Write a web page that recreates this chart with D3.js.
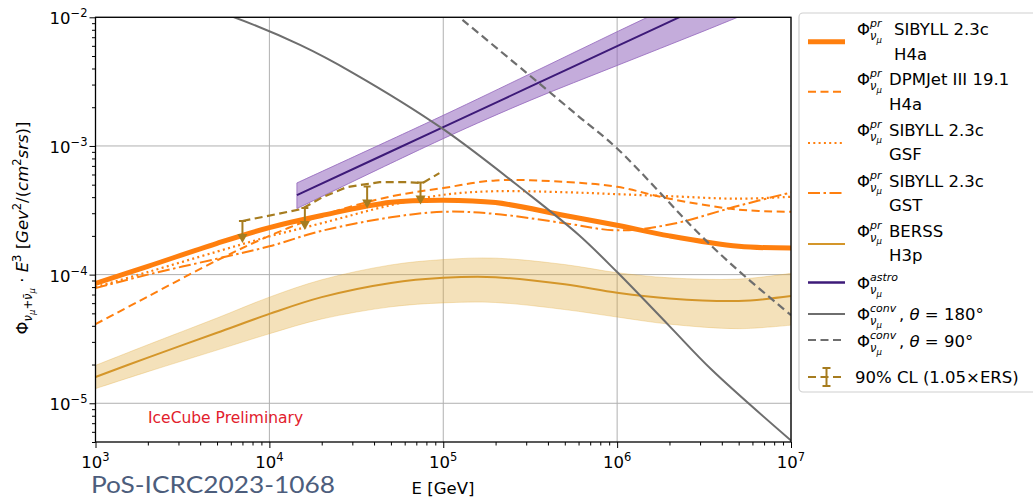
<!DOCTYPE html>
<html>
<head>
<meta charset="utf-8">
<style>
body { margin: 0; background: #fff; }
svg text { font-family: "DejaVu Sans", sans-serif; fill: #000; }
</style>
</head>
<body>
<svg width="1033" height="497"></svg>
<script src="https://cdn.jsdelivr.net/npm/d3@7/dist/d3.min.js"></script>
<script>

// energies [GeV] shared by the prompt model curves
var energyGrid = [1e3, 2e3, 5e3, 1e4, 2e4, 5e4, 1e5, 2e5, 5e5, 1e6, 2e6, 5e6, 1e7];

// prompt flux * E^3
var sibyllH4a = [8.55e-5, 1.16e-4, 1.75e-4, 2.32e-4, 2.88e-4, 3.65e-4, 3.79e-4, 3.63e-4, 2.88e-4, 2.42e-4, 2.0e-4, 1.66e-4, 1.61e-4];
var dpmjetH4a = [4.12e-5, 6.76e-5, 1.29e-4, 2.0e-4, 2.88e-4, 4.05e-4, 4.71e-4, 5.40e-4, 5.25e-4, 4.81e-4, 3.89e-4, 3.2e-4, 3.08e-4];
var sibyllGSF = [8.0e-5, 1.047e-4, 1.51e-4, 1.98e-4, 2.51e-4, 3.47e-4, 4.17e-4, 4.45e-4, 4.37e-4, 4.22e-4, 4.07e-4, 3.89e-4, 4.03e-4];
var sibyllGST = [7.85e-5, 1.0e-4, 1.33e-4, 1.66e-4, 2.19e-4, 2.79e-4, 3.08e-4, 2.96e-4, 2.51e-4, 2.21e-4, 2.45e-4, 3.43e-4, 4.35e-4];
var berssH3p  = [1.6e-5, 2.265e-5, 3.53e-5, 4.95e-5, 6.68e-5, 8.61e-5, 9.44e-5, 9.55e-5, 8.41e-5, 7.24e-5, 6.53e-5, 6.24e-5, 6.81e-5];
var berssHigh = [1.97e-5, 2.85e-5, 4.60e-5, 6.68e-5, 9.12e-5, 1.189e-4, 1.309e-4, 1.343e-4, 1.197e-4, 1.035e-4, 9.44e-5, 9.23e-5, 1.023e-4];
var berssLow  = [1.30e-5, 1.76e-5, 2.59e-5, 3.47e-5, 4.52e-5, 5.62e-5, 6.03e-5, 6.07e-5, 5.35e-5, 4.68e-5, 4.12e-5, 3.80e-5, 4.05e-5];

// astrophysical flux + band
var astroE    = [1.44e4, 1e5, 3.16e5, 1e6, 3.16e6, 1e7];
var astroFlux = [4.15e-4, 1.40e-3, 2.89e-3, 5.97e-3, 1.23e-2, 2.54e-2];
var astroHigh = [5.16e-4, 1.73e-3, 3.64e-3, 7.73e-3, 1.62e-2, 3.43e-2];
var astroLow  = [3.26e-4, 1.14e-3, 2.26e-3, 4.22e-3, 7.83e-3, 1.48e-2];

// conventional flux
var conv180E    = [3e3, 6e3, 1.5e4, 3e4, 1e5, 3e5, 6e5, 1e6, 2e6, 3.5e6, 1e7];
var conv180Flux = [1.38e-2, 1.023e-2, 6.1e-3, 3.72e-3, 1.35e-3, 4.37e-4, 2.04e-4, 1.047e-4, 3.98e-5, 1.82e-5, 5.13e-6];
var conv90E     = [1e5, 3e5, 6e5, 1e6, 3e6, 5e6, 1e7];
var conv90Flux  = [1.27e-2, 3.72e-3, 1.70e-3, 9.55e-4, 2.04e-4, 1.07e-4, 4.84e-5];

// 90% CL upper limit
var limitE    = [7.0e3, 1.53e4, 2.03e4, 2.79e4, 4.31e4, 6.15e4, 7.6e4, 9.5e4];
var limitFlux = [2.61e-4, 3.23e-4, 4.01e-4, 4.79e-4, 5.24e-4, 5.24e-4, 5.15e-4, 6.15e-4];
var arrowE    = [7.0e3, 1.6e4, 3.65e4, 7.4e4];
var arrowFlux = [2.61e-4, 3.3e-4, 4.85e-4, 5.2e-4];

var xTicks = [1e3, 1e4, 1e5, 1e6, 1e7];
var xTickExp = [3, 4, 5, 6, 7];
var yTicks = [1e-5, 1e-4, 1e-3, 1e-2];
var yTickExp = [-5, -4, -3, -2];

var legendLabels = [
  ["SIBYLL 2.3c", "H4a"],
  ["DPMJet III 19.1", "H4a"],
  ["SIBYLL 2.3c", "GSF"],
  ["SIBYLL 2.3c", "GST"],
  ["BERSS", "H3p"]
];

var orange = "#ff7f0e",
    berssColor = "#d4962a",
    purple = "#3d1a78",
    gray = "#6e6e6e",
    limitColor = "#a67c1f";

var svg = d3.select("svg");
var pL = 95.5, pR = 791, pT = 17.3, pB = 442;

var x = d3.scaleLog().domain([1e3, 1e7]).range([pL, pR]);
var y = d3.scaleLog().domain([5e-6, 1e-2]).range([pB, pT]);

svg.append("defs").append("clipPath").attr("id", "plotClip")
  .append("rect").attr("x", pL).attr("y", pT)
  .attr("width", pR - pL).attr("height", pB - pT);

// grid
var grid = svg.append("g").attr("stroke", "#b0b0b0").attr("stroke-width", 1);
grid.selectAll(".gx").data(xTicks).enter().append("line")
  .attr("x1", function(d) { return x(d); }).attr("x2", function(d) { return x(d); })
  .attr("y1", pT).attr("y2", pB);
grid.selectAll(".gy").data(yTicks).enter().append("line")
  .attr("y1", function(d) { return y(d); }).attr("y2", function(d) { return y(d); })
  .attr("x1", pL).attr("x2", pR);

var plot = svg.append("g").attr("clip-path", "url(#plotClip)");

function pts(xs, ys) { return d3.zip(xs, ys); }

var smooth = d3.curveCatmullRom.alpha(0.5);

var line = d3.line()
  .x(function(d) { return x(d[0]); })
  .y(function(d) { return y(d[1]); })
  .curve(smooth);

var band = d3.area()
  .x(function(d) { return x(d[0]); })
  .y0(function(d) { return y(d[1]); })
  .y1(function(d) { return y(d[2]); })
  .curve(smooth);

// BERSS band + line
plot.append("path").datum(d3.zip(energyGrid, berssLow, berssHigh))
  .attr("d", band).attr("fill", "#e0a838").attr("fill-opacity", 0.35)
  .attr("stroke", "#e0a838").attr("stroke-opacity", 0.3);
plot.append("path").datum(pts(energyGrid, berssH3p))
  .attr("d", line).attr("fill", "none").attr("stroke", berssColor).attr("stroke-width", 2);

// astro band + line
plot.append("path").datum(d3.zip(astroE, astroLow, astroHigh))
  .attr("d", band).attr("fill", "#9467bd").attr("fill-opacity", 0.55)
  .attr("stroke", "#9467bd").attr("stroke-opacity", 0.8);
plot.append("path").datum(pts(astroE, astroFlux))
  .attr("d", line).attr("fill", "none").attr("stroke", purple).attr("stroke-width", 2);

// prompt models
var models = [
  {v: sibyllH4a, w: 5, dash: null},
  {v: dpmjetH4a, w: 2, dash: "8,4.5"},
  {v: sibyllGSF, w: 2.2, dash: "2,3.3"},
  {v: sibyllGST, w: 2, dash: "12,3.5,2.5,3.5"}
];
models.forEach(function(m) {
  plot.append("path").datum(pts(energyGrid, m.v))
    .attr("d", line).attr("fill", "none").attr("stroke", orange)
    .attr("stroke-width", m.w).attr("stroke-dasharray", m.dash);
});

// conventional
plot.append("path").datum(pts(conv180E, conv180Flux))
  .attr("d", line).attr("fill", "none").attr("stroke", gray).attr("stroke-width", 2);
plot.append("path").datum(pts(conv90E, conv90Flux))
  .attr("d", line).attr("fill", "none").attr("stroke", gray).attr("stroke-width", 2.2)
  .attr("stroke-dasharray", "8,4.5");

// upper limits
plot.append("path").datum(pts(limitE, limitFlux))
  .attr("d", d3.line().x(function(d) { return x(d[0]); }).y(function(d) { return y(d[1]); }))
  .attr("fill", "none").attr("stroke", limitColor).attr("stroke-width", 2.2)
  .attr("stroke-dasharray", "8,4.5");
var arrows = plot.selectAll(".ul").data(pts(arrowE, arrowFlux)).enter().append("g")
  .attr("transform", function(d) { return "translate(" + x(d[0]) + "," + y(d[1]) + ")"; });
arrows.append("line").attr("x1", -3.5).attr("x2", 3.5).attr("stroke", limitColor).attr("stroke-width", 2);
arrows.append("line").attr("y1", 0).attr("y2", 15).attr("stroke", limitColor).attr("stroke-width", 2);
arrows.append("path").attr("d", "M-5,13L5,13L0,22Z").attr("fill", limitColor);

// axes: ticks
function minorOf(ticks) {
  return ticks.filter(function(v) {
    var m = v / Math.pow(10, Math.floor(Math.log10(v) + 1e-9));
    return Math.abs(m - 1) > 1e-6;
  });
}
var xAxisG = svg.append("g").attr("transform", "translate(0," + pB + ")");
xAxisG.append("g").call(d3.axisBottom(x).tickValues(minorOf(x.ticks())).tickSize(3.5).tickFormat(""));
xAxisG.append("g").call(d3.axisBottom(x).tickValues(xTicks).tickSize(6).tickFormat(""));
var yAxisG = svg.append("g").attr("transform", "translate(" + pL + ",0)");
yAxisG.append("g").call(d3.axisLeft(y).tickValues(minorOf(y.ticks())).tickSize(3.5).tickFormat(""));
yAxisG.append("g").call(d3.axisLeft(y).tickValues(yTicks).tickSize(6).tickFormat(""));
svg.selectAll(".domain").remove();
svg.selectAll(".tick line").attr("stroke", "#000").attr("stroke-width", 1);

svg.append("rect").attr("x", pL).attr("y", pT)
  .attr("width", pR - pL).attr("height", pB - pT)
  .attr("fill", "none").attr("stroke", "#000").attr("stroke-width", 1.3);

function powLabel(px, py, exp, anchor) {
  var t = svg.append("text").attr("x", px).attr("y", py)
    .attr("text-anchor", anchor).style("font-size", "16.5px");
  t.append("tspan").text("10");
  t.append("tspan").attr("dy", -7).style("font-size", "11.5px")
    .text(exp < 0 ? "\u2212" + (-exp) : String(exp));
}
xTicks.forEach(function(v, i) { powLabel(x(v), 468, xTickExp[i], "middle"); });
yTicks.forEach(function(v, i) { powLabel(87.5, y(v) + 7, yTickExp[i], "end"); });

// rich text helper: parts [text, size, shift, italic]
function richText(t, parts) {
  var prev = 0;
  parts.forEach(function(p) {
    var s = t.append("tspan").attr("dy", p[2] - prev).style("font-size", p[1] + "px").text(p[0]);
    if (p[3]) s.style("font-style", "italic");
    prev = p[2];
  });
}

// y label
var yl = svg.append("text").attr("transform", "translate(28,228) rotate(-90)")
  .attr("text-anchor", "middle");
richText(yl, [
  ["\u03A6", 16.5, 0, false],
  ["\u03BD", 11.5, 4, true],
  ["\u03BC", 8.5, 6.5, true],
  ["+", 11.5, 4, false],
  ["\u03BD\u0304", 11.5, 4, true],
  ["\u03BC", 8.5, 6.5, true],
  [" \u00B7 ", 16.5, 0, false],
  ["E", 16.5, 0, true],
  ["3", 11.5, -7, false],
  [" [", 16.5, 0, false],
  ["Gev", 16.5, 0, true],
  ["2", 11.5, -7, false],
  ["/(", 16.5, 0, false],
  ["cm", 16.5, 0, true],
  ["2", 11.5, -7, false],
  ["srs", 16.5, 0, true],
  [")]", 16.5, 0, false]
]);

svg.append("text").attr("x", 443).attr("y", 494).attr("text-anchor", "middle")
  .style("font-size", "16.5px").text("E [GeV]");

svg.append("text").attr("x", 148).attr("y", 423).style("font-size", "15.5px")
  .style("fill", "#e2202c").text("IceCube Preliminary");

svg.append("text").attr("x", 91).attr("y", 493)
  .attr("textLength", 244).attr("lengthAdjust", "spacingAndGlyphs")
  .style("font-family", "Lato, 'Open Sans', sans-serif").style("font-size", "23px")
  .style("fill", "#4c5d7c").text("PoS-ICRC2023-1068");

// legend
var lg = svg.append("g");
lg.append("rect").attr("x", 799).attr("y", 13).attr("width", 260).attr("height", 379)
  .attr("rx", 4).attr("fill", "#fff").attr("stroke", "#d0d0d0").attr("stroke-width", 1.2);

function phi(px, pb, sup) {
  lg.append("text").attr("x", px).attr("y", pb).style("font-size", "16.5px").text("\u03A6");
  lg.append("text").attr("x", px + 13).attr("y", pb - 8).style("font-size", "11px")
    .style("font-style", "italic").text(sup);
  var s = lg.append("text").attr("x", px + 13).attr("y", pb + 5)
    .style("font-size", "11.5px").style("font-style", "italic");
  s.append("tspan").text("\u03BD");
  s.append("tspan").attr("dy", 2.5).style("font-size", "8.5px").text("\u03BC");
}

function sample(sy, color, w, dash) {
  lg.append("line").attr("x1", 808).attr("x2", 845).attr("y1", sy).attr("y2", sy)
    .attr("stroke", color).attr("stroke-width", w).attr("stroke-dasharray", dash);
}

var rowBase = [35, 85, 135.5, 186.5, 236.5];
var rowSample = [41.7, 91.7, 143, 193, 244];
var rowStyles = [
  [orange, 5, null], [orange, 2, "8,4.5"], [orange, 2.2, "2,3.3"],
  [orange, 2, "12,3.5,2.5,3.5"], [berssColor, 2, null]
];
legendLabels.forEach(function(lab, i) {
  phi(857, rowBase[i], "pr");
  var tx = i === 0 ? 894 : 889;
  lg.append("text").attr("x", tx).attr("y", rowBase[i]).style("font-size", "16.5px").text(lab[0]);
  lg.append("text").attr("x", tx).attr("y", rowBase[i] + 24.5).style("font-size", "16.5px").text(lab[1]);
  sample(rowSample[i], rowStyles[i][0], rowStyles[i][1], rowStyles[i][2]);
});

sample(282.5, purple, 2.5, null);
phi(857, 289, "astro");

sample(314, gray, 2, null);
phi(857, 320, "conv");
richText(lg.append("text").attr("x", 899).attr("y", 320), [
  [", ", 16.5, 0, false], ["\u03B8", 16.5, 0, true], [" = 180\u00B0", 16.5, 0, false]
]);

sample(340, gray, 2, "8,4.5");
phi(857, 347, "conv");
richText(lg.append("text").attr("x", 899).attr("y", 347), [
  [", ", 16.5, 0, false], ["\u03B8", 16.5, 0, true], [" = 90\u00B0", 16.5, 0, false]
]);

sample(377, limitColor, 2, "8,4.5");
lg.append("line").attr("x1", 826.5).attr("x2", 826.5).attr("y1", 368).attr("y2", 386)
  .attr("stroke", limitColor).attr("stroke-width", 2);
lg.append("line").attr("x1", 822.5).attr("x2", 830.5).attr("y1", 368).attr("y2", 368)
  .attr("stroke", limitColor).attr("stroke-width", 2);
lg.append("line").attr("x1", 822.5).attr("x2", 830.5).attr("y1", 386).attr("y2", 386)
  .attr("stroke", limitColor).attr("stroke-width", 2);
lg.append("text").attr("x", 855).attr("y", 383).style("font-size", "16.5px")
  .text("90% CL (1.05\u00D7ERS)");

</script>
</body>
</html>
